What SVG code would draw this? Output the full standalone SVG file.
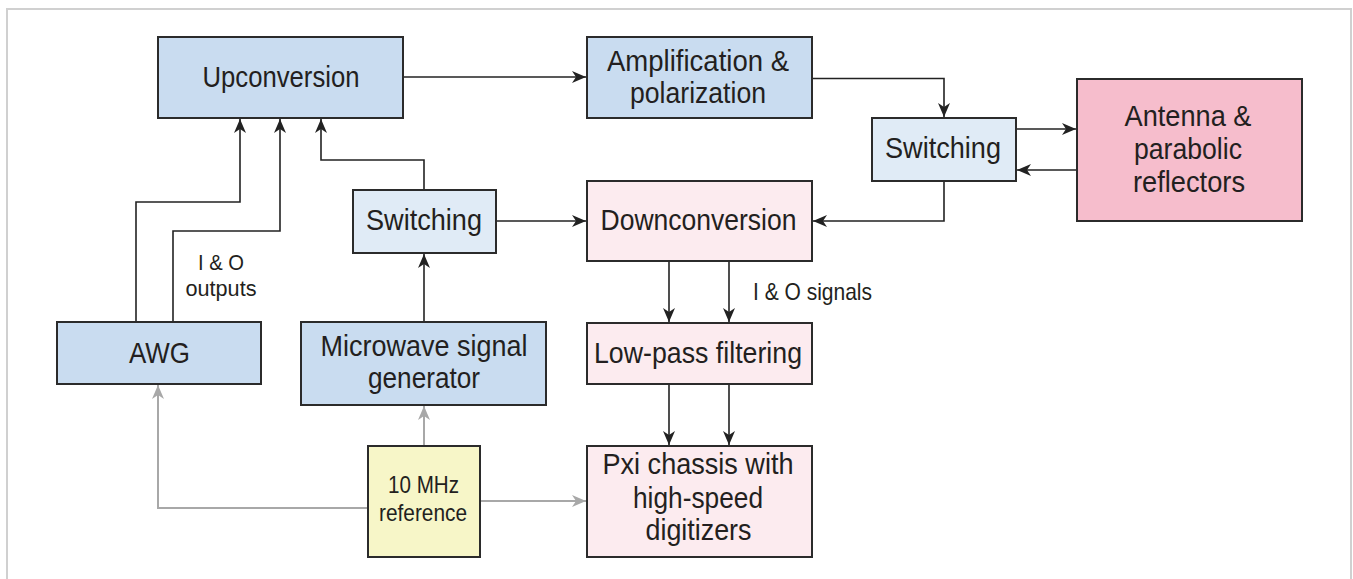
<svg xmlns="http://www.w3.org/2000/svg" width="1353" height="579" viewBox="0 0 1353 579">
  <style>
    .box { stroke: #2b2b2b; stroke-width: 2; }
    .blue { fill: #c9dcf0; }
    .pale { fill: #e0ebf6; }
    .rose { fill: #fcebef; }
    .pink { fill: #f6bdcc; }
    .yellow { fill: #f7f6c8; }
    text { font-family: "Liberation Sans", Arial, sans-serif; fill: #231f20; text-anchor: middle; }
    .big { font-size: 30px; }
    .small { font-size: 24px; }
    .note { font-size: 22px; }
    .wire { fill: none; stroke: #222; stroke-width: 1.6; }
    .ref { fill: none; stroke: #a8a8a8; stroke-width: 2; }
  </style>
  <defs>
    <marker id="arrow" markerUnits="userSpaceOnUse" markerWidth="15" markerHeight="13" refX="14" refY="6.5" orient="auto">
      <path d="M0,0.5 L14,6.5 L0,12.5 L4,6.5 Z" fill="#222"/>
    </marker>
    <marker id="arrowGray" markerUnits="userSpaceOnUse" markerWidth="15" markerHeight="13" refX="14" refY="6.5" orient="auto">
      <path d="M0,0.5 L14,6.5 L0,12.5 L4,6.5 Z" fill="#a8a8a8"/>
    </marker>
  </defs>

  <!-- frame -->
  <rect x="7" y="9" width="1344" height="600" fill="#ffffff" stroke="#d0d0d0" stroke-width="2"/>

  <!-- connectors -->
  <g id="connectors">
    <path class="wire" d="M403,77 H586" marker-end="url(#arrow)"/>
    <path class="wire" d="M812,78.5 H944 V117" marker-end="url(#arrow)"/>
    <path class="wire" d="M1016,129 H1076" marker-end="url(#arrow)"/>
    <path class="wire" d="M1077,170 H1017" marker-end="url(#arrow)"/>
    <path class="wire" d="M944,181 V221 H813" marker-end="url(#arrow)"/>
    <path class="wire" d="M496,221 H586" marker-end="url(#arrow)"/>
    <path class="wire" d="M424,190 V160 H321 V119" marker-end="url(#arrow)"/>
    <path class="wire" d="M136,322 V202 H240 V119" marker-end="url(#arrow)"/>
    <path class="wire" d="M173,322 V231 H280 V119" marker-end="url(#arrow)"/>
    <path class="wire" d="M424,322 V254" marker-end="url(#arrow)"/>
    <path class="wire" d="M669,261 V322" marker-end="url(#arrow)"/>
    <path class="wire" d="M729,261 V322" marker-end="url(#arrow)"/>
    <path class="wire" d="M669,384 V445" marker-end="url(#arrow)"/>
    <path class="wire" d="M729,384 V445" marker-end="url(#arrow)"/>
    <path class="ref" d="M424,446 V406" marker-end="url(#arrowGray)"/>
    <path class="ref" d="M368,508 H158 V385" marker-end="url(#arrowGray)"/>
    <path class="ref" d="M480,501 H586" marker-end="url(#arrowGray)"/>
    <text class="note" x="221" y="270" textLength="46" lengthAdjust="spacingAndGlyphs">I &amp; O</text>
    <text class="note" x="221" y="296" textLength="71" lengthAdjust="spacingAndGlyphs">outputs</text>
    <text class="small" x="753" y="300" style="text-anchor:start" textLength="119" lengthAdjust="spacingAndGlyphs">I &amp; O signals</text>
  </g>

  <g id="upconversion">
    <rect class="box blue" x="158" y="37" width="245" height="81"/>
    <text class="big" x="281" y="87" textLength="157" lengthAdjust="spacingAndGlyphs">Upconversion</text>
  </g>

  <g id="amplification">
    <rect class="box blue" x="587" y="37" width="225" height="81"/>
    <text class="big" x="698" y="71" textLength="182" lengthAdjust="spacingAndGlyphs">Amplification &amp;</text>
    <text class="big" x="698" y="103" textLength="136" lengthAdjust="spacingAndGlyphs">polarization</text>
  </g>

  <g id="switching-antenna">
    <rect class="box pale" x="872" y="118" width="144" height="63"/>
    <text class="big" x="943" y="157.5" textLength="116" lengthAdjust="spacingAndGlyphs">Switching</text>
  </g>

  <g id="antenna">
    <rect class="box pink" x="1077" y="79" width="225" height="142"/>
    <text class="big" x="1188" y="126" textLength="127" lengthAdjust="spacingAndGlyphs">Antenna &amp;</text>
    <text class="big" x="1188" y="159" textLength="108" lengthAdjust="spacingAndGlyphs">parabolic</text>
    <text class="big" x="1189" y="192" textLength="112" lengthAdjust="spacingAndGlyphs">reflectors</text>
  </g>

  <g id="downconversion">
    <rect class="box rose" x="587" y="181" width="225" height="80"/>
    <text class="big" x="698.5" y="230" textLength="196" lengthAdjust="spacingAndGlyphs">Downconversion</text>
  </g>

  <g id="switching-source">
    <rect class="box pale" x="353" y="190" width="143" height="63"/>
    <text class="big" x="424" y="230" textLength="116" lengthAdjust="spacingAndGlyphs">Switching</text>
  </g>

  <g id="awg">
    <rect class="box blue" x="57" y="322" width="204" height="62"/>
    <text class="big" x="159.5" y="363" textLength="61" lengthAdjust="spacingAndGlyphs">AWG</text>
  </g>

  <g id="microwave-generator">
    <rect class="box blue" x="301" y="322" width="245" height="83"/>
    <text class="big" x="424" y="356" textLength="207" lengthAdjust="spacingAndGlyphs">Microwave signal</text>
    <text class="big" x="424" y="387.5" textLength="112" lengthAdjust="spacingAndGlyphs">generator</text>
  </g>

  <g id="lowpass">
    <rect class="box rose" x="587" y="323" width="225" height="61"/>
    <text class="big" x="698" y="363" textLength="208" lengthAdjust="spacingAndGlyphs">Low-pass filtering</text>
  </g>

  <g id="reference-clock">
    <rect class="box yellow" x="368" y="446" width="112" height="111"/>
    <text class="small" x="423.5" y="493" textLength="71" lengthAdjust="spacingAndGlyphs">10 MHz</text>
    <text class="small" x="423" y="520.5" textLength="88" lengthAdjust="spacingAndGlyphs">reference</text>
  </g>

  <g id="digitizers">
    <rect class="box rose" x="587" y="446" width="225" height="111"/>
    <text class="big" x="698" y="474" textLength="191" lengthAdjust="spacingAndGlyphs">Pxi chassis with</text>
    <text class="big" x="698" y="508" textLength="130" lengthAdjust="spacingAndGlyphs">high-speed</text>
    <text class="big" x="698.5" y="540" textLength="106" lengthAdjust="spacingAndGlyphs">digitizers</text>
  </g>
</svg>
